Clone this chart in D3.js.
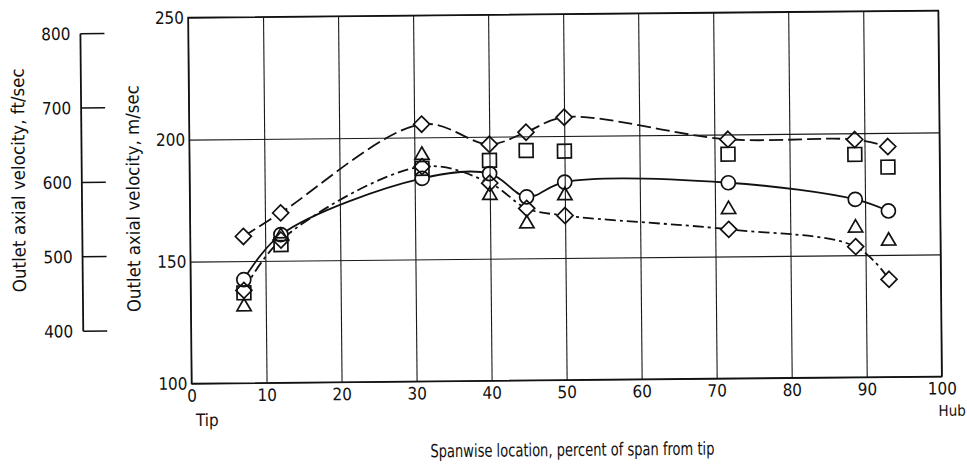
<!DOCTYPE html>
<html>
<head>
<meta charset="utf-8">
<script src="https://cdn.jsdelivr.net/npm/d3@7"></script>
<style>
  html, body { margin: 0; padding: 0; background: #fff; }
  svg { display: block; }
  text { font-family: "DejaVu Sans Condensed", "DejaVu Sans", sans-serif; font-stretch: condensed; fill: #111; }
</style>
</head>
<body>
<svg id="chart" width="967" height="467"></svg>
<script>
// Spanwise stations, percent of span from tip
const spanPct = [7.1, 12.1, 31.0, 40.0, 44.9, 50.0, 71.8, 88.7, 93.1];

// Outlet axial velocity, m/sec, one list per symbol
const circleVel   = [142.4, 160.7, 183.2, 184.9, 175.2, 181.1, 180.2, 172.9, 168.0];
const squareVel   = [137.0, 156.6, 187.3, 190.3, 194.2, 193.8, 191.9, 191.3, 186.0];
const triangleVel = [131.3, 160.0, 192.7, 176.0, 164.2, 175.6, 169.3, 161.2, 155.7];
const diamondHighVel = [160.1, 169.6, 205.4, 196.9, 201.7, 207.7, 198.0, 197.4, 194.4];
const diamondLowVel  = [138.0, 158.5, 188.0, 181.0, 170.5, 167.4, 161.1, 153.5, 140.0];

// Axis ticks
const xTicks = [0, 10, 20, 30, 40, 50, 60, 70, 80, 90, 100];
const yTicks = [100, 150, 200, 250];
const ftTicks = [400, 500, 600, 700, 800];
const FT_PER_M = 3.2808;

const FONT = '"DejaVu Sans Condensed","DejaVu Sans",sans-serif';

const svg = d3.select("#chart");
// the whole sheet sits slightly tilted
const sheet = svg.append("g").attr("transform", "rotate(-0.55, 565, 197)");

const x = d3.scaleLinear().domain([0, 100]).range([189.75, 940]);
const y = d3.scaleLinear().domain([100, 250]).range([380, 14]);
const yFt = v => y(v / FT_PER_M);

const W = x(100) - x(0), H = y(100) - y(250);

const curve = d3.curveCatmullRom.alpha(0.5);
const lineGen = d3.line().x(d => x(d[0])).y(d => y(d[1])).curve(curve);
const pairs = vals => spanPct.map((s, i) => [s, vals[i]]);

// Faired curves
const curves = [
  { vals: circleVel, dash: null },
  { vals: diamondHighVel, dash: "14,5" },
  { vals: diamondLowVel, dash: "11,4,3,4" }
];
sheet.append("g").selectAll("path").data(curves).join("path")
  .attr("d", d => lineGen(pairs(d.vals)))
  .attr("fill", "none")
  .attr("stroke", "#111")
  .attr("stroke-width", 1.8)
  .attr("stroke-dasharray", d => d.dash);

// Symbol shapes
const diamondPath = r => `M0,${-r}L${r},0L0,${r}L${-r},0Z`;
const symbols = [
  { vals: circleVel,      path: d3.symbol(d3.symbolCircle, 154)() },
  { vals: squareVel,      path: d3.symbol(d3.symbolSquare, 190)() },
  { vals: triangleVel,    path: d3.symbol(d3.symbolTriangle, 88)() },
  { vals: diamondHighVel, path: diamondPath(8) },
  { vals: diamondLowVel,  path: diamondPath(8) }
];

// white backs of the symbols break the curves at each point
const backs = sheet.append("g");
symbols.forEach(s => {
  backs.selectAll(null).data(pairs(s.vals)).join("path")
    .attr("d", s.path)
    .attr("transform", d => `translate(${x(d[0])},${y(d[1])})`)
    .attr("fill", "#fff").attr("stroke", "none");
});

// Grid via axes
const gridX = sheet.append("g").attr("transform", `translate(0,${y(100)})`)
  .call(d3.axisBottom(x).tickValues(xTicks).tickSize(-H).tickPadding(6).tickFormat(d3.format("d")));
const gridY = sheet.append("g").attr("transform", `translate(${x(0)},0)`)
  .call(d3.axisLeft(y).tickValues(yTicks).tickSize(-W).tickPadding(4).tickFormat(d3.format("d")));
[gridX, gridY].forEach(g => {
  g.select(".domain").remove();
  g.selectAll(".tick line").attr("stroke", "#1a1a1a").attr("stroke-width", 1.1);
  g.selectAll(".tick text").attr("font-size", 17).attr("fill", "#111")
    .style("font-family", FONT).style("font-stretch", "condensed");
});

// Plot frame
sheet.append("rect")
  .attr("x", x(0)).attr("y", y(250)).attr("width", W).attr("height", H)
  .attr("fill", "none").attr("stroke", "#111").attr("stroke-width", 1.5);

// Symbol outlines
const marks = sheet.append("g");
symbols.forEach(s => {
  marks.selectAll(null).data(pairs(s.vals)).join("path")
    .attr("d", s.path)
    .attr("transform", d => `translate(${x(d[0])},${y(d[1])})`)
    .attr("fill", "none").attr("stroke", "#111").attr("stroke-width", 1.7);
});

// ft/sec scale alongside
const ftAxisX = 82;
const ftAxis = sheet.append("g");
ftAxis.append("line")
  .attr("x1", ftAxisX).attr("x2", ftAxisX)
  .attr("y1", yFt(400)).attr("y2", yFt(800))
  .attr("stroke", "#111").attr("stroke-width", 1.8);
ftAxis.selectAll("line.tk").data(ftTicks).join("line").attr("class", "tk")
  .attr("x1", ftAxisX).attr("x2", ftAxisX + 24)
  .attr("y1", d => yFt(d)).attr("y2", d => yFt(d))
  .attr("stroke", "#111").attr("stroke-width", 1.5);
ftAxis.selectAll("text").data(ftTicks).join("text")
  .attr("x", ftAxisX - 10).attr("y", d => yFt(d)).attr("dy", "0.36em")
  .attr("text-anchor", "end").attr("font-size", 17)
  .text(d => d);

// Axis titles
sheet.append("text")
  .attr("transform", "translate(25,175) rotate(-90)")
  .attr("text-anchor", "middle").attr("font-size", 18)
  .attr("textLength", 224).attr("lengthAdjust", "spacingAndGlyphs")
  .text("Outlet axial velocity,  ft/sec");
sheet.append("text")
  .attr("transform", "translate(139.5,194.5) rotate(-90)")
  .attr("text-anchor", "middle").attr("font-size", 18)
  .attr("textLength", 227).attr("lengthAdjust", "spacingAndGlyphs")
  .text("Outlet axial velocity,  m/sec");

sheet.append("text")
  .attr("x", x(0) + 4).attr("y", 422.5)
  .attr("font-size", 17).text("Tip");
sheet.append("text")
  .attr("x", x(100) + 10).attr("y", 419.5)
  .attr("text-anchor", "middle").attr("font-size", 15)
  .text("Hub");
sheet.append("text")
  .attr("x", 570).attr("y", 456)
  .attr("text-anchor", "middle").attr("font-size", 18)
  .attr("textLength", 284).attr("lengthAdjust", "spacingAndGlyphs")
  .text("Spanwise location, percent of span from tip");
</script>
</body>
</html>
